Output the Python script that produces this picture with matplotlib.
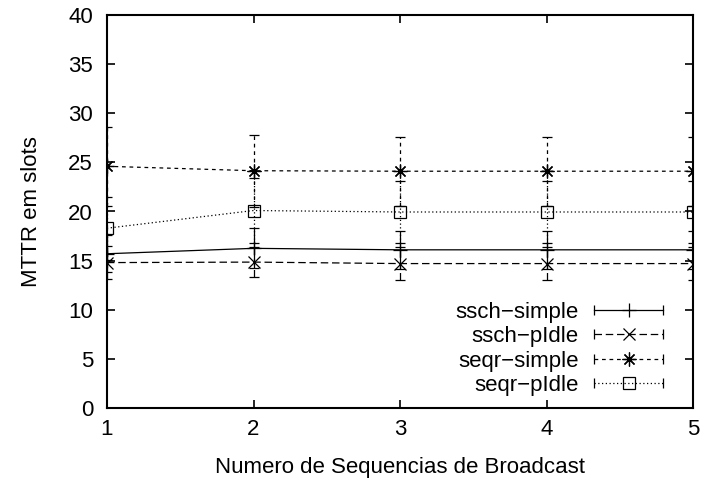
import matplotlib
matplotlib.use("Agg")
import matplotlib.pyplot as plt
from matplotlib.legend_handler import HandlerBase
from matplotlib.lines import Line2D

plt.rcParams['font.family'] = ['Liberation Sans', 'DejaVu Sans']

# dados
x = [1, 2, 3, 4, 5]
nomes = ['ssch\u2212simple', 'ssch\u2212pIdle', 'seqr\u2212simple', 'seqr\u2212pIdle']
ssch_simple = [15.7, 16.25, 16.1, 16.1, 16.1]
ssch_simple_err = [1.9, 2.05, 1.95, 1.95, 1.95]
ssch_pidle = [14.8, 14.85, 14.7, 14.7, 14.7]
ssch_pidle_err = [1.7, 1.5, 1.65, 1.65, 1.65]
seqr_simple = [24.6, 24.15, 24.1, 24.1, 24.1]
seqr_simple_err = [4.0, 3.65, 3.5, 3.5, 3.5]
seqr_pidle = [18.3, 20.1, 19.95, 19.95, 19.95]
seqr_pidle_err = [3.2, 3.3, 3.15, 3.15, 3.15]

series = [ssch_simple, ssch_pidle, seqr_simple, seqr_pidle]
erros = [ssch_simple_err, ssch_pidle_err, seqr_simple_err, seqr_pidle_err]
marcadores = ['+', 'x', (8, 2, 0), 's']
estilos = ['-', (0, (6, 3)), (0, (3, 3)), (0, (1, 2))]
tamanhos = [10, 8, 10, 8]
FS = 16


# legenda estilo gnuplot: linha com tracinhos nas pontas e marcador no meio
class HandlerGnuplot(HandlerBase):
    def __init__(self, estilo):
        super().__init__()
        self.estilo = estilo

    def create_artists(self, legend, orig, xdescent, ydescent, width, height, fontsize, trans):
        y = height / 2 - ydescent
        x0 = -xdescent
        x1 = width - xdescent
        linha = Line2D([x0, x1], [y, y], color='black', lw=0.9, linestyle=self.estilo)
        pontas = Line2D([x0, x1], [y, y], color='black', linestyle='none', marker='|',
                        markersize=7, markeredgewidth=0.9)
        marca = Line2D([(x0 + x1) / 2], [y], color='black', linestyle='none',
                       marker=orig.get_marker(), markersize=orig.get_markersize(),
                       markerfacecolor='none', markeredgewidth=0.9)
        for a in (linha, pontas, marca):
            a.set_transform(trans)
        return [linha, pontas, marca]


fig = plt.figure(figsize=(7.02, 4.82), dpi=100)
ax = fig.add_axes([107 / 702, 1 - 408 / 482, 586 / 702, 393 / 482])

handles = []
mapa = {}
for i in range(4):
    eb = ax.errorbar(x, series[i], yerr=erros[i], color='black', lw=0.9,
                     linestyle=estilos[i], marker=marcadores[i], markersize=tamanhos[i],
                     markerfacecolor='none', markeredgewidth=0.9,
                     capsize=3.6, capthick=0.9, elinewidth=0.9)
    eb[2][0].set_linestyle(estilos[i])
    handles.append(eb[0])
    mapa[eb[0]] = HandlerGnuplot(estilos[i])

ax.set_xlim(1, 5)
ax.set_ylim(0, 40)
ax.set_xticks([1, 2, 3, 4, 5])
ax.set_yticks(range(0, 41, 5))
ax.tick_params(direction='in', length=6, width=1.2, labelsize=FS,
               top=True, right=True)
ax.tick_params(axis='x', pad=8)
ax.tick_params(axis='y', pad=10)
for s in ax.spines.values():
    s.set_linewidth(1.5)

ax.set_xlabel('Numero de Sequencias de Broadcast', fontsize=FS, labelpad=12)
ax.set_ylabel('MTTR em slots', fontsize=FS, labelpad=19)

ax.legend(handles, nomes, handler_map=mapa,
          loc='lower right', bbox_to_anchor=(0.9488, 0.03), frameon=False,
          markerfirst=False, fontsize=FS, handlelength=3.1, handletextpad=0.7,
          labelspacing=0.16, borderpad=0, borderaxespad=0)

fig.savefig('out.png', dpi=100)
